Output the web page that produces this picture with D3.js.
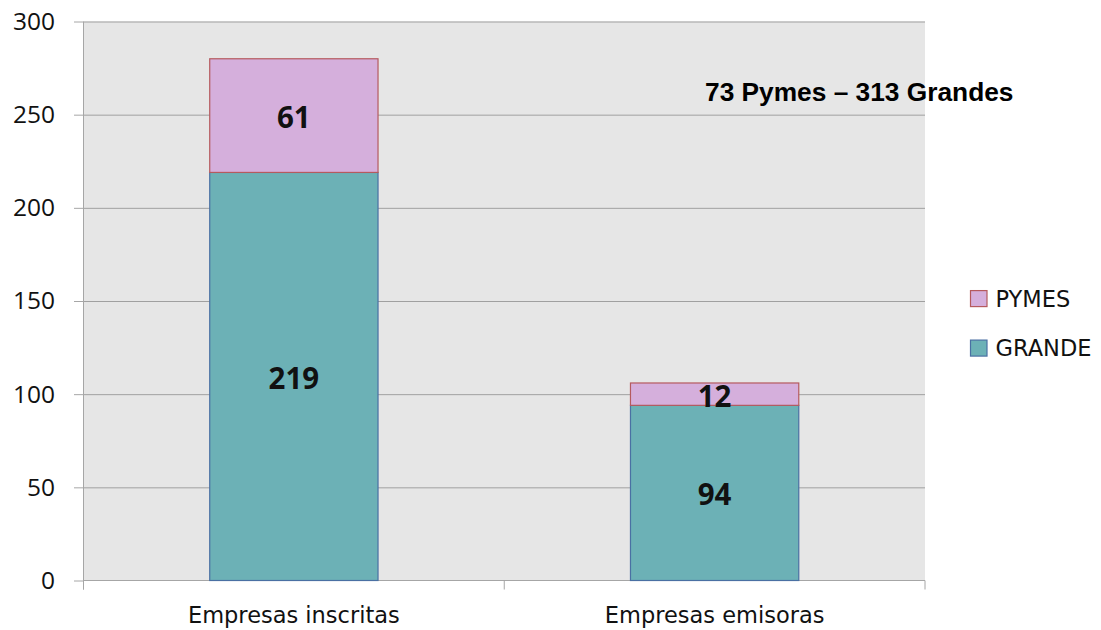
<!DOCTYPE html>
<html>
<head>
<meta charset="utf-8">
<script src="https://cdn.jsdelivr.net/npm/d3@7"></script>
<style>
  body { margin: 0; background: #fff; }
  .axis text { fill: #111; }
  .axis path, .axis line { stroke: #a6a6a6; }
  .grid line { stroke: #a0a0a0; }
  .grid path { display: none; }
</style>
</head>
<body>
<script>
const categories = ['Empresas inscritas', 'Empresas emisoras']
const grande = [219, 94]
const pymes = [61, 12]
const seriesNames = ['GRANDE', 'PYMES']
const yTicks = [0, 50, 100, 150, 200, 250, 300]
const note = '73 Pymes – 313 Grandes'

const margin = {top: 21.5, right: 176, bottom: 49.5, left: 83.5},
  width = 1101 - margin.left - margin.right,
  height = 630 - margin.top - margin.bottom

const colors = {GRANDE: '#6cb1b6', PYMES: '#d5afdc'}
const strokes = {GRANDE: '#4a70a3', PYMES: '#b55a5e'}

const rows = categories.map((c, i) => ({cat: c, GRANDE: grande[i], PYMES: pymes[i]}))
const stacked = d3.stack().keys(seriesNames)(rows)

const x = d3.scaleBand()
    .domain(categories)
    .range([0, width])
    .paddingInner(0.6)
    .paddingOuter(0.3)

const y = d3.scaleLinear()
    .domain([0, 300])
    .range([height, 0])

const svg = d3.select('body').append('svg')
    .attr('width', 1101)
    .attr('height', 630)
  .append('g')
    .attr('transform', `translate(${margin.left},${margin.top})`)

// plot background
svg.append('rect')
    .attr('width', width)
    .attr('height', height)
    .attr('fill', '#e6e6e6')

// gridlines
svg.append('g')
    .attr('class', 'grid')
    .call(d3.axisLeft(y).tickValues(yTicks.slice(1)).tickSize(-width).tickFormat(''))

// y axis
const yAxis = svg.append('g')
    .attr('class', 'axis')
    .call(d3.axisLeft(y).tickValues(yTicks).tickSize(9.5).tickPadding(19))
yAxis.select('.domain').attr('d', `M0,0V${height + 9}`)
yAxis.selectAll('text')
    .style('font-family', '"Open Sans", sans-serif')
    .style('font-size', '24.5px')

// x axis with ticks between categories
const xAxis = svg.append('g')
    .attr('class', 'axis')
    .attr('transform', `translate(0,${height})`)
    .call(d3.axisBottom(x).tickSize(0).tickPadding(27))
xAxis.select('.domain').attr('d', `M0,0H${width}`)
xAxis.selectAll('text')
    .style('font-family', '"DejaVu Sans", sans-serif')
    .style('font-size', '22.5px')
xAxis.selectAll('.sep')
    .data(d3.range(categories.length + 1))
  .join('line')
    .attr('class', 'sep')
    .attr('x1', i => i * width / categories.length)
    .attr('x2', i => i * width / categories.length)
    .attr('y1', 0)
    .attr('y2', 9)

// bars
const layer = svg.selectAll('.layer')
    .data(stacked)
  .join('g')
    .attr('class', 'layer')
    .attr('fill', d => colors[d.key])
    .attr('stroke', d => strokes[d.key])

layer.selectAll('rect')
    .data(d => d)
  .join('rect')
    .attr('x', d => x(d.data.cat))
    .attr('y', d => y(d[1]))
    .attr('width', x.bandwidth())
    .attr('height', d => y(d[0]) - y(d[1]))
    .attr('stroke-width', 1.2)

// bar labels
layer.selectAll('text')
    .data(d => d)
  .join('text')
    .attr('x', d => x(d.data.cat) + x.bandwidth() / 2)
    .attr('y', d => y((d[0] + d[1]) / 2))
    .attr('dy', '0.42em')
    .attr('text-anchor', 'middle')
    .attr('fill', '#111')
    .attr('stroke', 'none')
    .style('font-family', '"Open Sans", sans-serif')
    .style('font-weight', 'bold')
    .style('font-size', '29.5px')
    .text(d => d[1] - d[0])

// note
svg.append('text')
    .attr('x', 621.5)
    .attr('y', y(257.6))
    .style('font-family', '"Liberation Sans", Arial, sans-serif')
    .style('font-weight', 'bold')
    .style('font-size', '26.3px')
    .attr('fill', '#000')
    .text(note)

// legend
const legend = svg.append('g')
    .attr('transform', `translate(${width + 45.5},${y(147)})`)
const items = legend.selectAll('g')
    .data(seriesNames.slice().reverse())
  .join('g')
    .attr('transform', (d, i) => `translate(0,${i * 49.5})`)
items.append('rect')
    .attr('y', -16)
    .attr('width', 16.5)
    .attr('height', 16)
    .attr('fill', d => colors[d])
    .attr('stroke', d => strokes[d])
    .attr('stroke-width', 1.2)
items.append('text')
    .attr('x', 25)
    .attr('y', 0)
    .style('font-family', '"DejaVu Sans", sans-serif')
    .style('font-size', '22.5px')
    .attr('fill', '#111')
    .text(d => d)
</script>
</body>
</html>
